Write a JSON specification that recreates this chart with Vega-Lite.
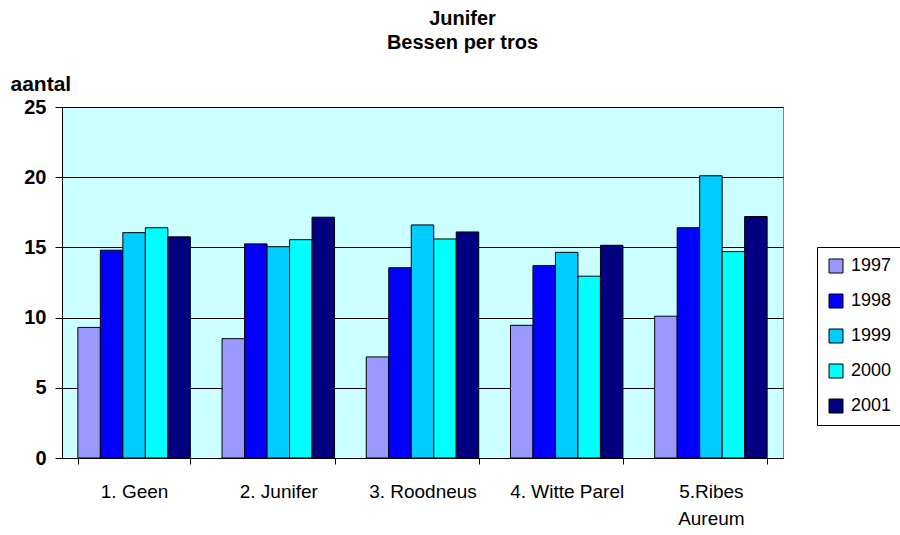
{
  "$schema": "https://vega.github.io/schema/vega-lite/v6.json",
  "autosize": "none",
  "width": 721,
  "height": 351,
  "padding": {"left": 62, "top": 107, "right": 117, "bottom": 77},
  "background": "white",
  "title": {
    "text": ["Junifer", "Bessen per tros"],
    "font": "Liberation Sans",
    "fontSize": 20,
    "fontWeight": "bold",
    "color": "black",
    "lineHeight": 24,
    "anchor": "middle",
    "dx": 40,
    "offset": 20
  },
  "config": {
    "view": {"fill": "#CCFFFF", "stroke": "#808080", "strokeWidth": 1},
    "font": "Liberation Sans"
  },
  "data": {
    "values": [
      {"variety": "1. Geen", "year": "1997", "count": 9.3},
      {"variety": "1. Geen", "year": "1998", "count": 14.8},
      {"variety": "1. Geen", "year": "1999", "count": 16.05},
      {"variety": "1. Geen", "year": "2000", "count": 16.4},
      {"variety": "1. Geen", "year": "2001", "count": 15.75},
      {"variety": "2. Junifer", "year": "1997", "count": 8.5},
      {"variety": "2. Junifer", "year": "1998", "count": 15.25},
      {"variety": "2. Junifer", "year": "1999", "count": 15.05},
      {"variety": "2. Junifer", "year": "2000", "count": 15.55},
      {"variety": "2. Junifer", "year": "2001", "count": 17.15},
      {"variety": "3. Roodneus", "year": "1997", "count": 7.2},
      {"variety": "3. Roodneus", "year": "1998", "count": 13.55},
      {"variety": "3. Roodneus", "year": "1999", "count": 16.6},
      {"variety": "3. Roodneus", "year": "2000", "count": 15.6},
      {"variety": "3. Roodneus", "year": "2001", "count": 16.1},
      {"variety": "4. Witte Parel", "year": "1997", "count": 9.45},
      {"variety": "4. Witte Parel", "year": "1998", "count": 13.7},
      {"variety": "4. Witte Parel", "year": "1999", "count": 14.65},
      {"variety": "4. Witte Parel", "year": "2000", "count": 12.95},
      {"variety": "4. Witte Parel", "year": "2001", "count": 15.15},
      {"variety": "5.Ribes Aureum", "year": "1997", "count": 10.1},
      {"variety": "5.Ribes Aureum", "year": "1998", "count": 16.4},
      {"variety": "5.Ribes Aureum", "year": "1999", "count": 20.1},
      {"variety": "5.Ribes Aureum", "year": "2000", "count": 14.7},
      {"variety": "5.Ribes Aureum", "year": "2001", "count": 17.2}
    ]
  },
  "mark": {"type": "bar", "stroke": "black", "strokeWidth": 1},
  "encoding": {
    "x": {
      "field": "variety",
      "type": "nominal",
      "sort": null,
      "scale": {"paddingInner": 0.22, "paddingOuter": 0.11},
      "axis": {
        "title": null,
        "labelAngle": 0,
        "labelFont": "Liberation Sans",
        "labelFontSize": 19,
        "labelColor": "black",
        "labelPadding": 18,
        "labelLineHeight": 27,
        "labelExpr": "datum.value == '5.Ribes Aureum' ? ['5.Ribes', 'Aureum'] : datum.label",
        "domainColor": "black",
        "tickColor": "black",
        "tickSize": 6,
        "tickBand": "extent",
        "grid": false
      }
    },
    "xOffset": {
      "field": "year",
      "type": "nominal",
      "scale": {"paddingInner": 0, "paddingOuter": 0}
    },
    "y": {
      "field": "count",
      "type": "quantitative",
      "scale": {"domain": [0, 25]},
      "axis": {
        "values": [0, 5, 10, 15, 20, 25],
        "title": "aantal",
        "titleAngle": 0,
        "titleAlign": "left",
        "titleBaseline": "alphabetic",
        "titleX": -52,
        "titleY": -17,
        "titleFont": "Liberation Sans",
        "titleFontSize": 21,
        "titleFontWeight": "bold",
        "titleColor": "black",
        "labelFont": "Liberation Sans",
        "labelFontSize": 20,
        "labelFontWeight": "bold",
        "labelColor": "black",
        "labelPadding": 9,
        "tickSize": 7,
        "tickColor": "black",
        "domainColor": "black",
        "grid": true,
        "gridColor": "black",
        "gridOpacity": 1
      }
    },
    "color": {
      "field": "year",
      "type": "nominal",
      "scale": {
        "domain": ["1997", "1998", "1999", "2000", "2001"],
        "range": ["#9999FF", "#0000FF", "#00CCFF", "#00FFFF", "#000080"]
      },
      "legend": {
        "title": null,
        "orient": "none",
        "legendX": 755,
        "legendY": 140,
        "strokeColor": "black",
        "fillColor": "white",
        "padding": 10,
        "symbolType": "square",
        "symbolSize": 196,
        "symbolStrokeColor": "black",
        "symbolStrokeWidth": 1,
        "symbolOpacity": 1,
        "labelFont": "Liberation Sans",
        "labelFontSize": 18,
        "labelColor": "black",
        "labelOffset": 6,
        "rowPadding": 17
      }
    }
  }
}
